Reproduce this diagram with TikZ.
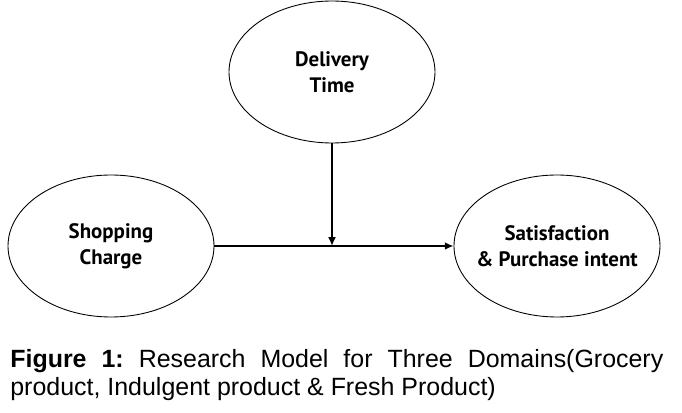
\documentclass[tikz,border=0pt]{standalone}
\usepackage{fontspec}
\usepackage{tikz}
\usetikzlibrary{arrows.meta,calc,positioning,shapes.geometric}
\newfontfamily\lblfont{PT Sans}
\newfontfamily\capfont{Liberation Sans}

\begin{document}
\begin{tikzpicture}[
    construct/.style={draw=black, line width=0.5pt, ellipse, inner sep=-0.4cm, align=center,
      minimum width=4.12cm, minimum height=2.84cm, font=\lblfont\bfseries\fontsize{11.9}{15}\selectfont},
    path/.style={-{Latex[length=5pt,width=4.5pt]}, line width=1.2pt}]
  \useasboundingbox (0,0) rectangle (13.64,-8.26);
  \node[construct] (del) at (6.64,-1.44) {Delivery\\Time};
  \node[construct] (shop) at (2.22,-4.92) {Shopping\\Charge};
  \node[construct] (sat) at (11.14,-4.92) {Satisfaction\\\& Purchase intent};
  \coordinate (meet) at (del.south |- shop.east);
  \draw[path] (shop) -- (sat);
  \draw[path] (del) -- (meet);
  % caption
  \node[anchor=base west, inner sep=0pt, text width=13.06cm, align=justify,
    font=\capfont\fontsize{14.2}{15.4}\selectfont\frenchspacing] (cap) at (0.2,-7.36)
    {\textbf{Figure 1:} Research Model for Three Domains(Grocery\linebreak product, Indulgent product \& Fresh Product)};
\end{tikzpicture}
\end{document}
